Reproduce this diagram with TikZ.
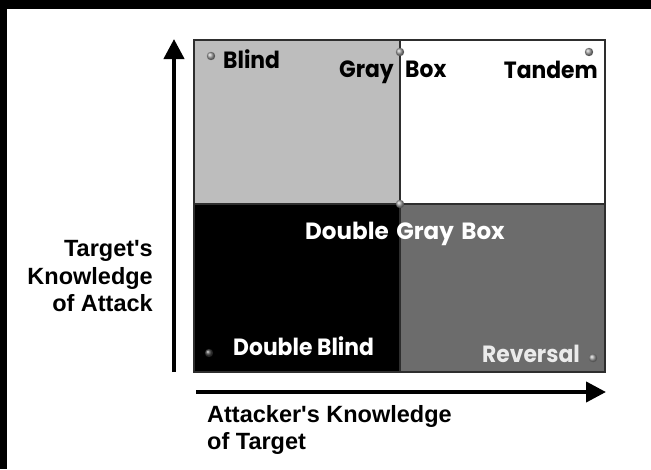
\documentclass[tikz,border=0pt]{standalone}
\usepackage{fontspec}
\setmainfont{Liberation Sans}
\newfontfamily\gridfont{Poppins}[FakeStretch=0.93]
\newfontfamily\widegridfont{Poppins}[FakeStretch=0.98]
\usetikzlibrary{arrows.meta}
\definecolor{cellLight}{HTML}{BDBDBD}
\definecolor{cellDark}{HTML}{6C6C6C}
\definecolor{rule}{HTML}{2E2E2E}
\begin{document}
\begin{tikzpicture}[x=1pt,y=-1pt,
  cellline/.style={draw=rule, line width=1.6pt},
  axisarrow/.style={line width=4.2pt, -{Triangle[length=20pt,width=20pt]}},
  axislabel/.style={font=\fontsize{23.5}{27.5}\selectfont\bfseries, inner sep=0pt},
  cornerlabel/.style={font=\gridfont\fontsize{23.5}{27}\selectfont\bfseries, inner sep=0pt},
  knob/.style={ball color=#1},
  knob/.default=gray!75
]
\useasboundingbox (0,0) rectangle (651,469);
\fill[white] (0,0) rectangle (651,469);
% dark frame along the top and left edges
\fill[black] (0,0) rectangle (651,9);
\fill[black] (0,0) rectangle (7,469);

% quadrant cells
\coordinate (tl) at (194,40);
\coordinate (tm) at (400,40);
\coordinate (tr) at (605,40);
\coordinate (ml) at (194,204);
\coordinate (mm) at (400,204);
\coordinate (mr) at (605,204);
\coordinate (bl) at (194,372);
\coordinate (bm) at (400,372);
\coordinate (br) at (605,372);
\fill[cellLight] (tl) rectangle (mm);
\fill[white] (tm) rectangle (mr);
\fill[black] (ml) rectangle (bm);
\fill[cellDark] (mm) rectangle (br);
\draw[cellline] (tl) rectangle (br);
\draw[cellline] (tm) -- (bm);
\draw[cellline] (ml) -- (mr);

% axes
\coordinate (yfoot) at (174,372);
\coordinate (yhead) at (174,39);
\coordinate (xfoot) at (196,392);
\coordinate (xhead) at (606,392);
\draw[axisarrow] (yfoot) -- (yhead);
\draw[axisarrow] (xfoot) -- (xhead);

% axis captions
\node[axislabel, anchor=north east, align=right] (ylab) at (153,240.5)
  {Target\textquotesingle s\\Knowledge\\of Attack};
\node[axislabel, anchor=north west, align=left] (xlab) at (207,405)
  {Attacker\textquotesingle s Knowledge\\of Target};

% quadrant names
\node[cornerlabel, anchor=base west] (blind) at (223,68) {Blind};
\node[cornerlabel, anchor=base east] (gray) at (394,77) {Gray};
\node[cornerlabel, anchor=base west] (box) at (405,77) {Box};
\node[cornerlabel, anchor=base east] (tandem) at (598,78) {Tandem};
\node[cornerlabel, font=\widegridfont\fontsize{23.5}{27}\selectfont\bfseries,
  anchor=base, text=white] (dgb) at (405,239)
  {Double\hspace{7.5pt}Gray\hspace{7.5pt}Box};
\node[cornerlabel, anchor=base west, text=white] (dblind) at (233,355) {Double Blind};
\node[cornerlabel, anchor=base east, text=white!92!black] (rev) at (580,362) {Reversal};

% marker knobs
\shade[knob] (211,56) circle (4.2);
\shade[knob] (400,52) circle (4.2);
\shade[knob] (589,52) circle (4.2);
\shade[knob] (400,204) circle (4.2);
\shade[knob=gray!50!black] (209,353) circle (4.2);
\shade[knob] (593,358) circle (4.2);
\end{tikzpicture}
\end{document}
